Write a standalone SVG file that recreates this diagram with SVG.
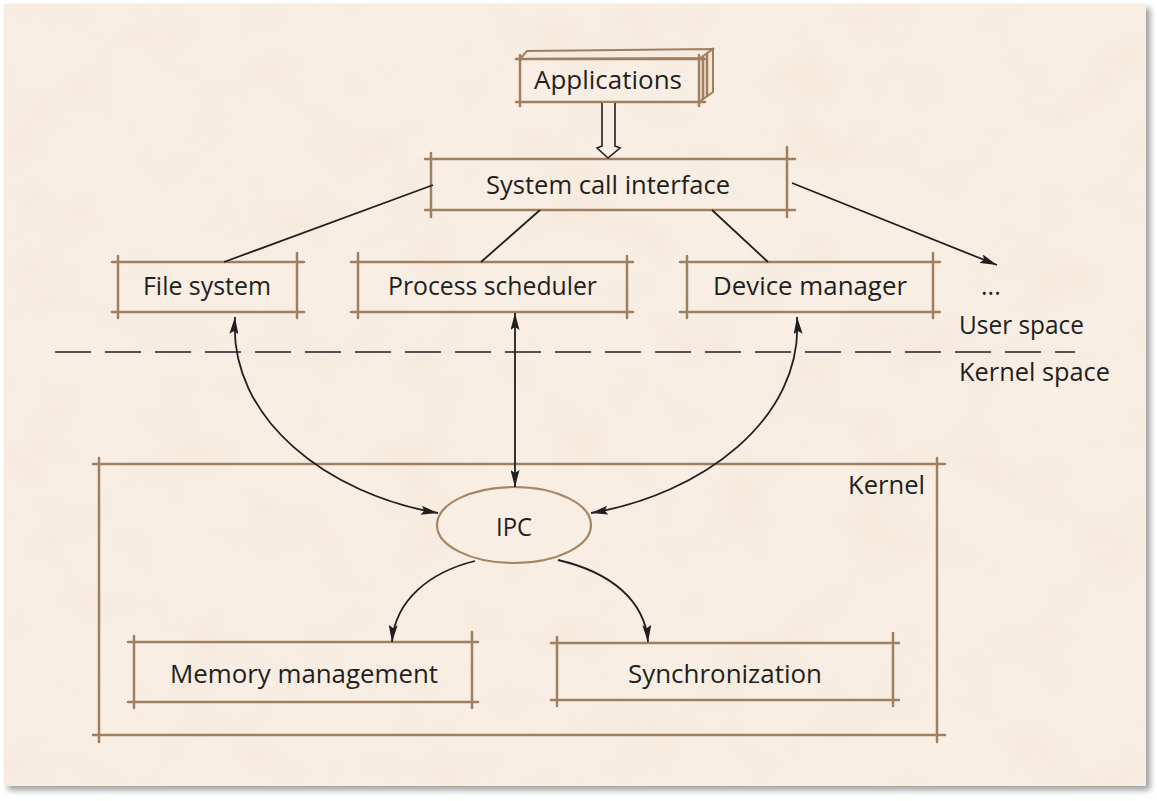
<svg xmlns="http://www.w3.org/2000/svg" width="1157" height="801" viewBox="0 0 1157 801">
<defs>
<filter id="grain" x="0" y="0" width="100%" height="100%">
<feTurbulence type="fractalNoise" baseFrequency="0.013 0.016" numOctaves="4" seed="7" result="n"/>
<feColorMatrix in="n" type="matrix" values="0 0 0 0 0.91  0 0 0 0 0.80  0 0 0 0 0.68  1.5 0 0 0 -0.66" result="c"/>
<feComposite in="c" in2="SourceGraphic" operator="in"/>
</filter>
<filter id="shadow" x="-5%" y="-5%" width="110%" height="110%">
<feGaussianBlur stdDeviation="3"/>
</filter>
<filter id="soft" x="-2%" y="-20%" width="104%" height="140%">
<feGaussianBlur stdDeviation="0.6"/>
</filter>
<marker id="ah" viewBox="0 0 17 9" refX="17" refY="4.5" markerWidth="17" markerHeight="9" markerUnits="userSpaceOnUse" orient="auto-start-reverse">
<path d="M0,0 L17,4.5 L0,9 L3,4.5 z" fill="#231f20"/>
</marker>
</defs>
<style>
.t{font-family:"Open Sans","Noto Sans","Liberation Sans",sans-serif;font-size:25px;fill:#231f20;}
.bx{fill:none;stroke:#9f7f60;stroke-width:2.5;stroke-linecap:round;}
.cn{fill:none;stroke:#231f20;stroke-width:1.8;}
</style>
<rect x="0" y="0" width="1157" height="801" fill="#ffffff"/>
<rect x="8" y="8" width="1142" height="782" fill="#9a9a9a" filter="url(#shadow)"/>
<rect x="4" y="4" width="1142" height="782" fill="#f8eee4"/>
<rect x="4" y="4" width="1142" height="782" fill="#f8eee4" filter="url(#grain)"/>

<g id="kernel">
<path class="bx" d="M93,464 H945 M93,735 H945 M99,458 V742 M937,458 V742" filter="url(#soft)"/>
<text class="t" x="925" y="494" text-anchor="end" textLength="77" lengthAdjust="spacingAndGlyphs">Kernel</text>
</g>

<g id="applications">
<path d="M520,59 L527,51 L713,49 L708,58 Z" fill="#f6eadd" stroke="#9f7f60" stroke-width="2"/>
<path d="M699,59 L713,49 L713,92 L699,102 Z" fill="#f3e5d6" stroke="#9f7f60" stroke-width="2"/>
<path class="bx" d="M703,57 V99 M707,54 V96" />
<path class="bx" d="M516,59 H705 M516,102 H705 M520,55 V106 M699,55 V106" filter="url(#soft)"/>
<text class="t" x="534" y="89" textLength="148" lengthAdjust="spacingAndGlyphs">Applications</text>
</g>

<g id="syscall">
<path class="bx" d="M425,159 H795 M425,210 H795 M431,153 V217 M787,147 V217" filter="url(#soft)"/>
<text class="t" x="486" y="194" textLength="244" lengthAdjust="spacingAndGlyphs">System call interface</text>
</g>

<g id="filesystem">
<path class="bx" d="M112,262 H304 M112,312 H304 M118,256 V318 M297,253 V318" filter="url(#soft)"/>
<text class="t" x="143" y="295" textLength="128" lengthAdjust="spacingAndGlyphs">File system</text>
</g>

<g id="scheduler">
<path class="bx" d="M351,262 H633 M351,312 H633 M358,253 V318 M627,256 V318" filter="url(#soft)"/>
<text class="t" x="388" y="295" textLength="209" lengthAdjust="spacingAndGlyphs">Process scheduler</text>
</g>

<g id="devicemanager">
<path class="bx" d="M680,262 H940 M680,312 H940 M687,256 V318 M933,253 V318" filter="url(#soft)"/>
<text class="t" x="713" y="295" textLength="194" lengthAdjust="spacingAndGlyphs">Device manager</text>
</g>

<g id="more">
<text class="t" x="981" y="295">...</text>
</g>

<g id="spaces">
<text class="t" x="959" y="334" textLength="125" lengthAdjust="spacingAndGlyphs">User space</text>
<text class="t" x="959" y="381" textLength="151" lengthAdjust="spacingAndGlyphs">Kernel space</text>
</g>

<g id="ipc">
<ellipse cx="514" cy="525" rx="77" ry="38" fill="#f8eee4" stroke="#a48566" stroke-width="2.2"/>
<text class="t" x="496" y="536" textLength="36" lengthAdjust="spacingAndGlyphs">IPC</text>
</g>

<g id="memory">
<path class="bx" d="M128,642 H478 M128,702 H478 M134,636 V708 M472,632 V708" filter="url(#soft)"/>
<text class="t" x="170" y="683" textLength="268" lengthAdjust="spacingAndGlyphs">Memory management</text>
</g>

<g id="sync">
<path class="bx" d="M551,643 H899 M551,700 H899 M557,637 V706 M893,633 V706" filter="url(#soft)"/>
<text class="t" x="628" y="683" textLength="194" lengthAdjust="spacingAndGlyphs">Synchronization</text>
</g>

<g id="connectors">
<path d="M602,103 L602,146 L597,148 L608,158 L620,148 L615,146 L615,103" fill="#f8eee4" stroke="#231f20" stroke-width="1.6"/>
<path class="cn" d="M433,185 L224,262"/>
<path class="cn" d="M540,210 L481,262"/>
<path class="cn" d="M712,210 L768,262"/>
<path class="cn" d="M792,183 L997,265" marker-end="url(#ah)"/>
<path class="cn" d="M235,317 C 228,420 330,495 438,513" marker-start="url(#ah)" marker-end="url(#ah)"/>
<path class="cn" d="M515,313 L515,487" marker-start="url(#ah)" marker-end="url(#ah)"/>
<path class="cn" d="M797,317 C 804,420 700,495 591,513" marker-start="url(#ah)" marker-end="url(#ah)"/>
<path class="cn" d="M475,561 C 430,572 395,600 392,642" marker-end="url(#ah)"/>
<path class="cn" d="M558,560 C 610,572 645,600 648,642" marker-end="url(#ah)"/>
<path d="M55,352 H1075" fill="none" stroke="#231f20" stroke-width="1.6" stroke-dasharray="36,14"/>
</g>
</svg>
